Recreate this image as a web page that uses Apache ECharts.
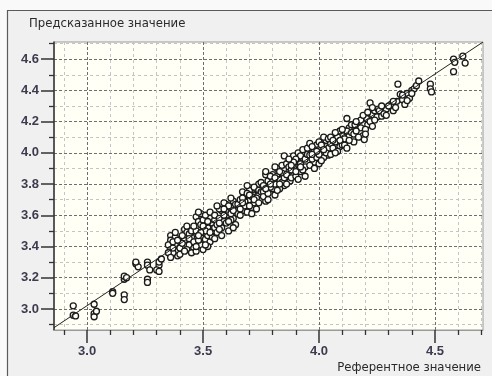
<!DOCTYPE html>
<html><head><meta charset="utf-8">
<script src="https://cdn.jsdelivr.net/npm/echarts@6/dist/echarts.min.js"></script>
<style>html,body{margin:0;padding:0;background:#f0f0f0;}#c{width:492px;height:376px;}</style>
</head><body><div id="c"></div>
<script>
const yTitle = 'Предсказанное значение';
const xTitle = 'Референтное значение';
const xMajorTicks = [3.0, 3.5, 4.0, 4.5];
const xMinorTicks = [2.9, 3.1, 3.2, 3.3, 3.4, 3.6, 3.7, 3.8, 3.9, 4.1, 4.2, 4.3, 4.4, 4.6, 4.7];
const yMajorTicks = [3.0, 3.2, 3.4, 3.6, 3.8, 4.0, 4.2, 4.4, 4.6];
const yMinorTicks = [2.9, 3.1, 3.3, 3.5, 3.7, 3.9, 4.1, 4.3, 4.5, 4.7];
const fitLine = [[2.857, 2.88], [4.707, 4.71]];
const points = [
[2.94,3.02],[2.94,2.96],[2.95,2.955],[3.03,3.03],[3.03,2.97],[3.03,2.95],[3.04,2.985],[3.11,3.11],[3.11,3.10],
[3.16,3.19],[3.16,3.21],[3.16,3.09],[3.16,3.06],[3.17,3.20],[3.21,3.29],[3.22,3.27],[3.21,3.30],[3.26,3.30],
[3.26,3.28],[3.26,3.19],[3.26,3.17],[3.27,3.25],[3.31,3.28],[3.31,3.30],[3.30,3.25],[3.32,3.32],[3.31,3.24],
[3.36,3.47],[3.38,3.46],[3.36,3.44],[3.35,3.41],[3.38,3.41],[3.36,3.38],[3.39,3.37],[3.39,3.34],[3.36,3.35],
[3.40,3.39],[3.37,3.36],[3.35,3.36],[3.37,3.43],[3.38,3.49],[3.40,3.35],[3.36,3.33],[3.42,3.51],[3.43,3.49],
[3.42,3.44],[3.45,3.46],[3.44,3.41],[3.43,3.38],[3.46,3.39],[3.41,3.42],[3.44,3.48],[3.43,3.53],[3.45,3.36],
[3.42,3.37],[3.44,3.45],[3.47,3.37],[3.37,3.39],[3.39,3.44],[3.41,3.47],[3.45,3.50],[3.46,3.43],
[3.47,3.59],[3.48,3.56],[3.49,3.54],[3.49,3.61],[3.50,3.45],[3.50,3.42],[3.49,3.455],[3.49,3.41],[3.51,3.445],
[3.52,3.52],[3.54,3.55],[3.54,3.50],[3.53,3.58],[3.47,3.50],[3.48,3.44],[3.50,3.57],[3.51,3.60],[3.52,3.47],
[3.53,3.43],[3.55,3.52],[3.46,3.53],[3.48,3.62],[3.51,3.50],[3.53,3.62],[3.50,3.38],[3.52,3.40],[3.54,3.46],
[3.47,3.40],[3.49,3.49],[3.55,3.57],[3.48,3.47],[3.50,3.53],[3.52,3.56],[3.53,3.49],[3.51,3.41],
[3.56,3.54],[3.55,3.60],[3.57,3.58],[3.58,3.63],[3.59,3.56],[3.61,3.60],[3.62,3.65],[3.60,3.67],[3.63,3.58],
[3.64,3.63],[3.56,3.49],[3.57,3.64],[3.58,3.52],[3.59,3.68],[3.60,3.55],[3.61,3.50],[3.62,3.57],[3.63,3.69],
[3.64,3.54],[3.65,3.61],[3.56,3.66],[3.58,3.47],[3.60,3.62],[3.62,3.61],[3.57,3.55],[3.59,3.60],[3.61,3.66],
[3.63,3.52],[3.64,3.67],[3.55,3.45],[3.62,3.71],[3.57,3.51],[3.59,3.64],[3.61,3.56],[3.63,3.63],
[3.65,3.67],[3.66,3.70],[3.67,3.63],[3.68,3.73],[3.70,3.76],[3.70,3.70],[3.71,3.65],[3.72,3.73],[3.73,3.77],
[3.74,3.73],[3.66,3.60],[3.67,3.75],[3.68,3.66],[3.69,3.62],[3.69,3.79],[3.71,3.72],[3.72,3.68],[3.73,3.64],
[3.74,3.80],[3.75,3.70],[3.66,3.64],[3.68,3.69],[3.70,3.66],[3.72,3.78],[3.74,3.76],[3.67,3.71],[3.71,3.61],
[3.73,3.71],[3.75,3.75],[3.69,3.74],[3.67,3.68],[3.70,3.73],[3.72,3.70],[3.74,3.68],
[3.75,3.81],[3.76,3.75],[3.77,3.69],[3.77,3.86],[3.79,3.82],[3.80,3.77],[3.77,3.88],[3.78,3.82],[3.80,3.86],
[3.79,3.78],[3.82,3.90],[3.82,3.85],[3.84,3.92],[3.85,3.79],[3.83,3.77],[3.76,3.72],[3.78,3.74],[3.81,3.80],
[3.81,3.73],[3.83,3.83],[3.84,3.87],[3.76,3.79],[3.78,3.70],[3.80,3.83],[3.82,3.76],[3.84,3.81],[3.79,3.85],
[3.83,3.88],[3.85,3.84],[3.81,3.91],[3.77,3.77],[3.79,3.80],[3.81,3.84],[3.83,3.80],
[3.86,3.93],[3.87,3.88],[3.875,3.82],[3.88,3.95],[3.89,3.98],[3.85,3.98],[3.90,3.92],[3.91,4.00],[3.92,3.88],
[3.93,3.96],[3.94,3.91],[3.86,3.86],[3.87,3.91],[3.88,3.84],[3.89,3.90],[3.90,3.85],[3.91,3.94],[3.92,3.98],
[3.93,3.89],[3.94,3.96],[3.86,3.80],[3.88,3.89],[3.90,3.96],[3.92,3.93],[3.94,3.85],[3.95,3.99],[3.89,3.94],
[3.91,3.83],[3.87,3.96],[3.93,4.02],[3.88,3.92],[3.90,3.88],[3.92,3.91],
[3.95,4.03],[3.96,3.985],[3.975,4.00],[3.98,3.94],[3.99,4.05],[4.00,4.07],[4.01,4.00],[4.03,4.04],[4.03,4.08],
[4.04,3.985],[3.96,3.92],[3.97,3.96],[3.98,4.02],[3.99,3.97],[4.00,3.93],[4.00,4.02],[4.01,4.05],[4.02,3.97],
[4.02,4.10],[4.04,4.03],[4.05,4.06],[3.96,4.06],[3.98,3.90],[4.01,3.95],[4.03,4.00],[4.05,3.99],[3.97,4.04],
[4.00,3.99],[4.04,4.09],[3.99,4.01],[3.97,3.99],[4.02,4.02],
[4.05,4.10],[4.07,4.07],[4.08,4.12],[4.09,4.04],[4.10,4.11],[4.08,4.10],[4.10,4.05],[4.09,4.14],[4.12,4.22],
[4.13,4.11],[4.13,4.16],[4.15,4.07],[4.11,4.05],[4.06,4.03],[4.07,4.13],[4.08,4.01],[4.11,4.09],[4.12,4.14],
[4.14,4.13],[4.06,4.08],[4.12,4.03],[4.14,4.18],[4.10,4.15],[4.07,4.00],[4.13,4.08],[4.15,4.12],[4.09,4.08],
[4.155,4.18],[4.17,4.20],[4.18,4.16],[4.19,4.11],[4.195,4.085],[4.205,4.22],[4.21,4.18],[4.22,4.32],[4.23,4.245],
[4.24,4.27],[4.16,4.14],[4.17,4.10],[4.18,4.21],[4.20,4.15],[4.20,4.12],[4.22,4.20],[4.23,4.17],[4.25,4.23],
[4.16,4.20],[4.19,4.24],[4.21,4.26],[4.24,4.21],[4.23,4.29],
[4.255,4.28],[4.27,4.235],[4.26,4.27],[4.29,4.28],[4.31,4.31],[4.32,4.27],[4.335,4.33],[4.34,4.44],[4.28,4.25],
[4.30,4.30],[4.33,4.29],[4.27,4.30],[4.32,4.33],[4.29,4.24],
[4.35,4.375],[4.36,4.34],[4.37,4.31],[4.38,4.38],[4.39,4.35],[4.40,4.40],[4.38,4.335],[4.41,4.41],[4.42,4.43],
[4.43,4.46],[4.48,4.44],[4.48,4.41],[4.485,4.39],[4.40,4.38],[4.36,4.37],
[4.58,4.60],[4.58,4.52],[4.62,4.62],[4.63,4.575],[4.585,4.58]
];

const X_MIN = 2.857, X_MAX = 4.707, Y_MIN = 2.865, Y_MAX = 4.71;
const labelStyle = { fontFamily: 'Liberation Sans', fontSize: 13, fontWeight: 'bold', color: '#3c3c4e' };
const majorSplit = { show: true, lineStyle: { color: '#6e6e6e', width: 1, type: [3, 2] } };
const minorSplit = { show: true, lineStyle: { color: '#c4c4c4', width: 1, type: [3, 3] } };
const nameStyle = { fontFamily: 'DejaVu Sans', fontSize: 11.7, fontWeight: 'normal', color: '#2a2a2a' };

const chart = echarts.init(document.getElementById('c'), null, { renderer: 'canvas' });
chart.setOption({
  animation: false,
  backgroundColor: '#f0f0f0',
  graphic: [
    { type: 'rect', left: 0, top: 0, shape: { width: 492, height: 10 }, style: { fill: '#f9f9f9' }, silent: true },
    { type: 'rect', left: 0, top: 0, shape: { width: 7, height: 376 }, style: { fill: '#f9f9f9' }, silent: true },
    { type: 'polyline', shape: { points: [[7.5, 376], [7.5, 10.5], [492, 10.5]] }, style: { stroke: '#5a5a5a', lineWidth: 1.2, fill: null }, silent: true }
  ],
  title: [
    { text: yTitle, left: 29, top: 18, padding: 0, textStyle: nameStyle },
    { text: xTitle, right: 11, top: 362, padding: 0, textStyle: nameStyle }
  ],
  grid: { left: 54, top: 42, right: 9, bottom: 46, show: true, backgroundColor: '#fffff5', borderColor: '#9a9a9a', borderWidth: 1, containLabel: false },
  xAxis: [
    { type: 'value', position: 'bottom', min: X_MIN, max: X_MAX,
      axisLine: { show: true, lineStyle: { color: '#9a9a9a', width: 1 } },
      axisTick: { show: true, customValues: xMajorTicks, length: 13, lineStyle: { color: '#333', width: 1.5 } },
      axisLabel: { show: true, customValues: xMajorTicks, margin: 15, formatter: v => v.toFixed(1), ...labelStyle },
      splitLine: majorSplit },
    { type: 'value', position: 'bottom', min: X_MIN, max: X_MAX,
      axisLine: { show: false },
      axisTick: { show: true, customValues: xMinorTicks, length: 5, lineStyle: { color: '#333', width: 1.3 } },
      axisLabel: { show: false },
      splitLine: minorSplit }
  ],
  yAxis: [
    { type: 'value', position: 'left', min: Y_MIN, max: Y_MAX,
      axisLine: { show: true, lineStyle: { color: '#333', width: 1.5 } },
      axisTick: { show: true, customValues: yMajorTicks, length: 13, lineStyle: { color: '#333', width: 1.5 } },
      axisLabel: { show: true, customValues: yMajorTicks, margin: 15, formatter: v => v.toFixed(1), ...labelStyle },
      splitLine: majorSplit },
    { type: 'value', position: 'left', min: Y_MIN, max: Y_MAX,
      axisLine: { show: false },
      axisTick: { show: true, customValues: yMinorTicks, length: 5, lineStyle: { color: '#333', width: 1.3 } },
      axisLabel: { show: false },
      splitLine: minorSplit }
  ],
  series: [
    { type: 'scatter', xAxisIndex: 0, yAxisIndex: 0, data: points, symbol: 'circle', symbolSize: 6,
      itemStyle: { color: '#fffff8', borderColor: '#1a1a1a', borderWidth: 1.3, opacity: 1 }, z: 2, silent: true },
    { type: 'line', xAxisIndex: 0, yAxisIndex: 0, data: fitLine, showSymbol: false, symbol: 'none',
      lineStyle: { color: '#222', width: 1 }, z: 3, silent: true }
  ]
});
</script>
</body></html>
